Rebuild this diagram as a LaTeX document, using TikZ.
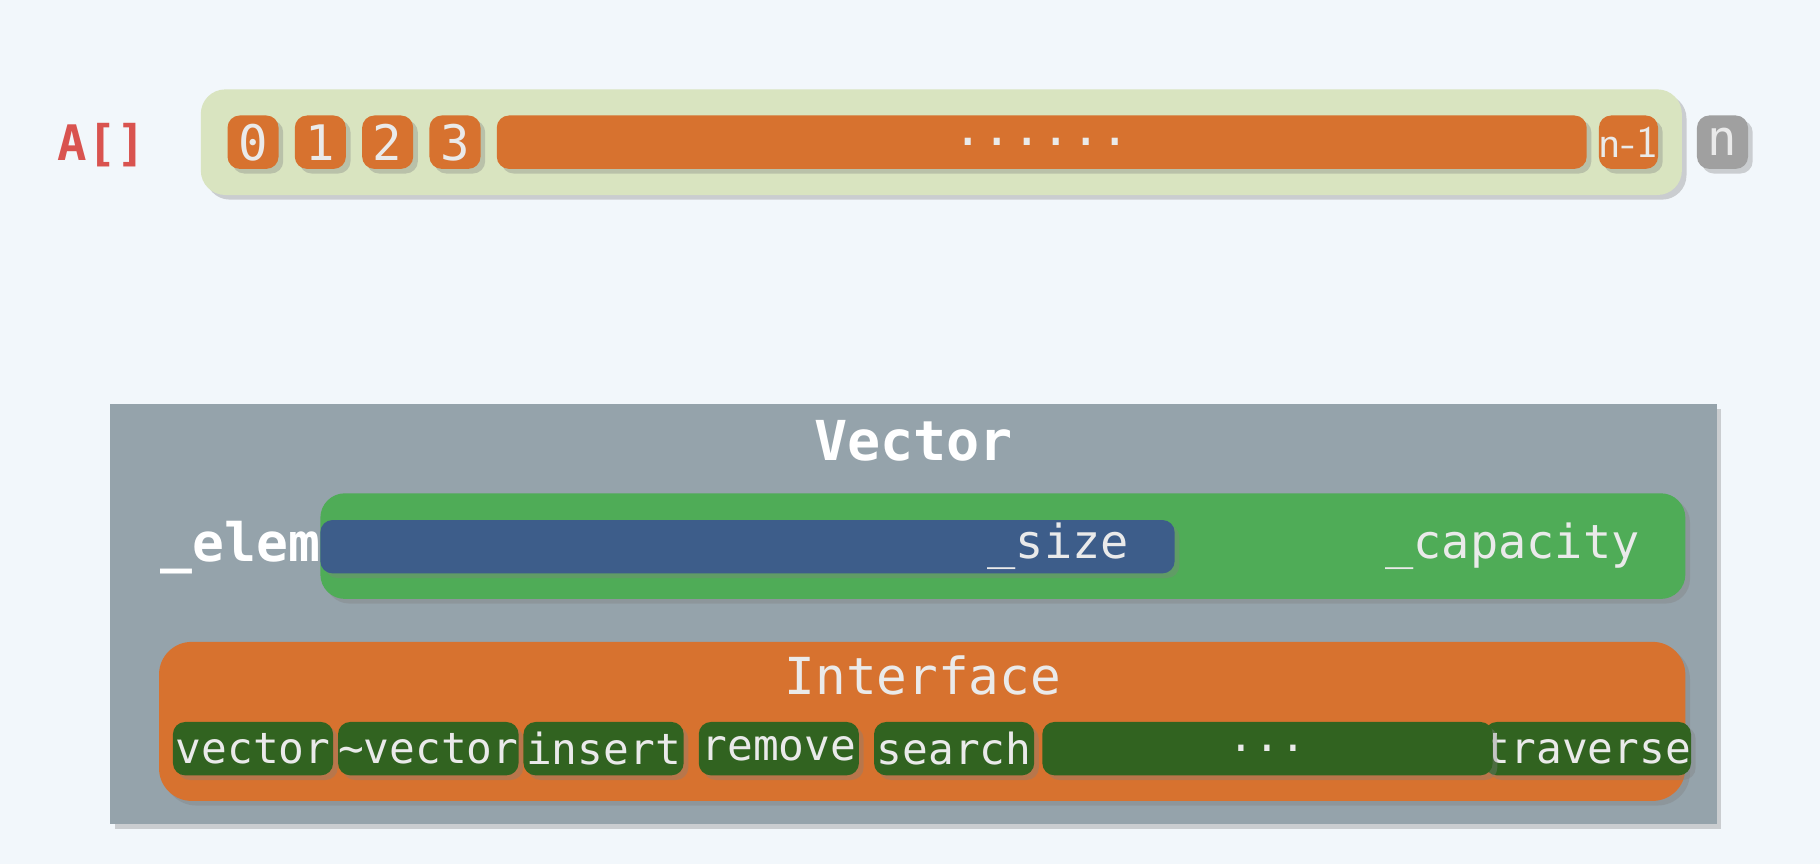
\documentclass[tikz,border=0pt]{standalone}
\usepackage{fontspec}
\setmonofont{DejaVu Sans Mono}
\usetikzlibrary{positioning,shadows}
\definecolor{bgc}{HTML}{F2F7FB}
\definecolor{arrc}{HTML}{D9E4C0}
\definecolor{orc}{HTML}{D7722F}
\definecolor{gyc}{HTML}{A0A0A0}
\definecolor{vecc}{HTML}{95A3AB}
\definecolor{grc}{HTML}{4FAC57}
\definecolor{blc}{HTML}{3D5D8A}
\definecolor{dgc}{HTML}{316320}
\definecolor{txc}{HTML}{EAEAEA}
\definecolor{redc}{HTML}{D9534F}
\tikzset{
  shd/.style={drop shadow={shadow xshift=0.4mm,shadow yshift=-0.4mm,opacity=0.35}},
  cell/.style={rounded corners=3pt,shd,minimum height=4.6mm,inner sep=0pt,
    text=txc,font=\ttfamily\fontsize{12}{12}\selectfont},
  btn/.style={cell,fill=dgc,minimum width=13.8mm,font=\ttfamily\fontsize{10.5}{10.5}\selectfont},
  lbl/.style={text=txc,font=\ttfamily\fontsize{11.5}{11.5}\selectfont},
}
\begin{document}
\begin{tikzpicture}[x=0.1mm,y=-0.1mm]
\fill[bgc] (0,0) rectangle (1568,744);
\useasboundingbox (0,0) rectangle (1568,744);
% array
\node[font=\ttfamily\bfseries\fontsize{12}{12}\selectfont,text=redc] (alabel) at (88,125) {A[]};
\node[fill=arrc,rounded corners=6pt,shd,minimum width=127.6mm,minimum height=9.1mm] (arr) at (811,122.5) {};
\foreach \i/\x in {0/218,1/276,2/334,3/392}
  \node[cell,fill=orc,minimum width=4.4mm] (c\i) at (\x,122.5) {\i};
\node[cell,fill=orc,minimum width=93.9mm] (cdots) at (897.5,122.5) {......};
\node[cell,fill=orc,minimum width=4.4mm,font=\sffamily\fontsize{11}{11}\selectfont] (clast) at (1403,122.5) {n-1};
\node[cell,fill=gyc,minimum width=4.4mm] (cn) at (1484,122.5) {n};
% vector
\node[fill=vecc,shd,minimum width=138.4mm,minimum height=36.2mm] (vec) at (787,529) {};
\node[font=\ttfamily\bfseries\fontsize{13.5}{13.5}\selectfont,text=white] (vtitle) at (787,380) {Vector};
\node[fill=grc,rounded corners=6pt,shd,minimum width=117.6mm,minimum height=9.1mm] (cap) at (864,470.5) {};
\node[font=\ttfamily\bfseries\fontsize{13}{13}\selectfont,text=white] (elem) at (207,472) {\_elem};
\node[cell,fill=blc,minimum width=73.6mm] (size) at (644,471) {};
\node[lbl,anchor=east] (sizet) at (985,471) {\_size};
\node[lbl,anchor=east] (capt) at (1425,471) {\_capacity};
% interface
\node[fill=orc,rounded corners=8pt,shd,minimum width=131.5mm,minimum height=13.7mm] (intf) at (794.5,621.5) {};
\node[lbl,font=\ttfamily\fontsize{12.5}{12.5}\selectfont] (intft) at (795,582) {Interface};
\foreach \n/\t/\x in {b1/vector/218,b2/\textasciitilde vector/369,b3/insert/520,b4/remove/671,b5/search/822,b7/traverse/1368}
  \node[btn] (\n) at (\x,645) {\t};
\node[btn,minimum width=38.8mm] (b6) at (1092,645) {...};
\end{tikzpicture}
\end{document}
